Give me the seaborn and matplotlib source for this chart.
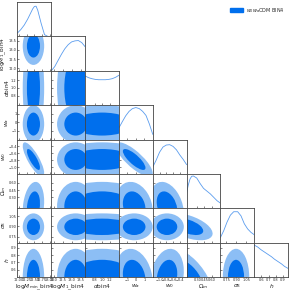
import numpy as np
import matplotlib
matplotlib.use("Agg")
import matplotlib.pyplot as plt
from matplotlib.patches import Ellipse, Patch
import seaborn as sns

# parameter names / axis labels
labels = [r"log$M_{\rm min}$_bin4", r"log$M_1$_bin4", r"$\alpha$bin4", r"$w_a$",
          r"$w_0$", r"$\Omega_m$", r"$\sigma_8$", r"$h$"]
ranges = [(11.95, 13.05), (11.85, 13.75), (0.55, 1.45), (-2.0, 2.0),
          (-1.2, -0.2), (0.08, 0.78), (0.66, 1.17), (0.50, 0.97)]
ticks = [[12.0, 12.25, 12.5, 12.75, 13.0], [12.0, 12.5, 13.0, 13.5], [0.8, 1.0, 1.2],
         [-1.0, 0.0, 1.0], [-1.0, -0.8, -0.6, -0.4], [0.30, 0.45, 0.60],
         [0.75, 0.90, 1.05], [0.6, 0.7, 0.8, 0.9]]

# 1D marginals
marg_x = [
    [11.95, 12.06, 12.17, 12.28, 12.39, 12.445, 12.50, 12.555, 12.61, 12.72, 12.83, 12.94, 13.05],
    [11.85, 12.04, 12.23, 12.42, 12.61, 12.80, 12.99, 13.18, 13.37, 13.56, 13.75],
    [0.55, 0.64, 0.73, 0.82, 0.91, 1.00, 1.09, 1.18, 1.27, 1.36, 1.45],
    [-2.0, -1.6, -1.2, -0.8, -0.4, 0.0, 0.4, 0.8, 1.2, 1.6, 2.0],
    [-1.2, -1.1, -1.0, -0.9, -0.8, -0.7, -0.6, -0.5, -0.4, -0.3, -0.2],
    [0.08, 0.115, 0.15, 0.185, 0.22, 0.29, 0.36, 0.43, 0.50, 0.57, 0.64, 0.71, 0.78],
    [0.66, 0.71, 0.76, 0.81, 0.86, 0.92, 0.97, 1.02, 1.07, 1.12, 1.17],
    [0.50, 0.55, 0.59, 0.64, 0.69, 0.74, 0.78, 0.83, 0.88, 0.92, 0.97],
]
marg_p = [
    [0.10, 0.20, 0.33, 0.50, 0.70, 0.80, 0.87, 0.88, 0.76, 0.38, 0.05, 0.0, 0.0],
    [0.0, 0.12, 0.30, 0.48, 0.64, 0.76, 0.84, 0.87, 0.88, 0.82, 0.70],
    [0.85, 0.80, 0.77, 0.75, 0.74, 0.74, 0.74, 0.75, 0.77, 0.81, 0.87],
    [0.34, 0.52, 0.69, 0.82, 0.90, 0.93, 0.90, 0.82, 0.70, 0.45, 0.15],
    [0.20, 0.40, 0.63, 0.78, 0.84, 0.85, 0.80, 0.70, 0.55, 0.42, 0.27],
    [0.45, 0.68, 0.85, 0.93, 0.94, 0.88, 0.72, 0.58, 0.50, 0.42, 0.32, 0.22, 0.15],
    [0.15, 0.35, 0.60, 0.80, 0.90, 0.90, 0.78, 0.55, 0.40, 0.30, 0.23],
    [0.93, 0.87, 0.80, 0.73, 0.66, 0.59, 0.52, 0.45, 0.38, 0.31, 0.25],
]

# 2D summary: means, widths and pair correlations
means = [12.47, 13.22, 1.0, -0.2, -0.78, 0.12, 0.895, 0.50]
sigmas = [0.14, 0.42, 0.54, 0.88, 0.20, 0.20, 0.08, 0.155]
corr = {(0, 4): -0.8, (3, 4): -0.8, (5, 6): -0.5, (5, 7): -0.6, (4, 5): -0.3,
        (3, 5): -0.2, (0, 5): 0.2, (4, 7): 0.2, (3, 7): -0.2}

dark = "#006FED"
light = "#8CBEF5"
line_col = "#5A9CEE"

sns.set_style("ticks")
plt.rcParams["font.family"] = ["DejaVu Sans"]

n = len(labels)
fig, axes = plt.subplots(n, n, figsize=(2.91, 2.91), dpi=100)
fig.subplots_adjust(left=0.06, right=0.99, bottom=0.048, top=0.993, wspace=0, hspace=0)

for row in range(n):
    for col in range(n):
        ax = axes[row, col]
        if col > row:
            ax.set_visible(False)
            continue
        ax.set_xlim(ranges[col])
        if row == col:
            sns.lineplot(x=marg_x[col], y=marg_p[col], ax=ax, color=line_col, lw=0.6)
            ax.set_ylim(0, 1)
            ax.set_yticks([])
        else:
            ax.set_ylim(ranges[row])
            r = corr.get((col, row), 0.0)
            sx, sy = sigmas[col], sigmas[row]
            cov = np.array([[sx**2, r*sx*sy], [r*sx*sy, sy**2]])
            vals, vecs = np.linalg.eigh(cov)
            ang = np.degrees(np.arctan2(vecs[1, 1], vecs[0, 1]))
            for k, c in [(2.49, light), (1.52, dark)]:
                ax.add_patch(Ellipse((means[col], means[row]), 2*k*np.sqrt(vals[1]),
                                     2*k*np.sqrt(vals[0]), angle=ang, color=c, lw=0))
            ax.set_yticks(ticks[row])
        ax.set_xticks(ticks[col])
        ax.tick_params(direction="in", length=1.5, width=0.4, labelsize=2.5, pad=0.6)
        for s in ax.spines.values():
            s.set_linewidth(0.6)
            s.set_color("#444444")
        if row == n - 1:
            ax.set_xlabel(labels[col], fontsize=4.2, labelpad=0.2)
        else:
            ax.set_xticklabels([])
        if col == 0 and row > 0:
            ax.set_ylabel(labels[row], fontsize=4.2, labelpad=0.3)
        else:
            ax.set_yticklabels([])

fig.legend(handles=[Patch(color=dark)], labels=[r"$w_0w_a$CDM BIN4"], loc="upper right",
           bbox_to_anchor=(0.995, 0.995), fontsize=3.5, frameon=False,
           handlelength=2.5, handleheight=0.8)

fig.savefig("out.png", dpi=100)
